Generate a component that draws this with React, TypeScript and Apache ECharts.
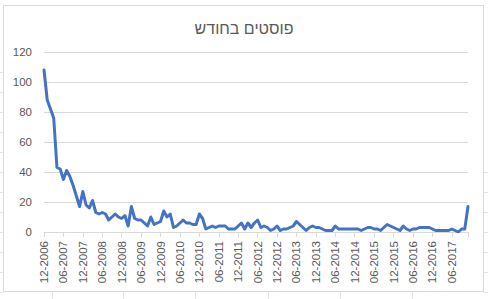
import React, { useEffect, useRef } from "react";
import * as echarts from "echarts";

const titleText = "פוסטים בחודש";

const startYear = 2006;
const startMonth = 12;

const postsPerMonth: number[] = [
  108, 88, 82, 76, 43, 42, 35, 41, 37, 31, 24, 17,
  27, 18, 16, 21, 13, 12, 13, 12, 8, 10, 12, 10,
  9, 11, 4, 17, 9, 8, 8, 6, 4, 10, 5, 6,
  7, 14, 10, 12, 3, 4, 6, 8, 6, 6, 5, 5,
  12, 9, 2, 3, 4, 3, 4, 4, 4, 2, 2, 2,
  4, 6, 2, 6, 3, 6, 8, 3, 4, 3, 1, 2,
  4, 1, 2, 2, 3, 4, 7, 5, 3, 1, 3, 4,
  3, 3, 2, 1, 1, 1, 4, 2, 2, 2, 2, 2,
  2, 2, 1, 2, 3, 3, 2, 2, 1, 3, 5, 4,
  3, 2, 1, 4, 2, 1, 2, 2, 3, 3, 3, 3,
  2, 1, 1, 1, 1, 1, 2, 1, 0, 2, 2, 17,
];

const yTicks = { min: 0, max: 120, interval: 20 };

function monthLabels(n: number): string[] {
  const out: string[] = [];
  let y = startYear;
  let m = startMonth;
  for (let i = 0; i < n; i++) {
    out.push(`${String(m).padStart(2, "0")}-${y}`);
    m++;
    if (m > 12) {
      m = 1;
      y++;
    }
  }
  return out;
}

const categories = monthLabels(postsPerMonth.length);

export default function App() {
  const ref = useRef<HTMLDivElement>(null);
  useEffect(() => {
    if (!ref.current) return;
    const chart = echarts.init(ref.current, undefined, { renderer: "svg" });
    const grey = "#d9d9d9";
    const text = "#595959";
    const font = "'Liberation Sans', Arial, sans-serif";
    const last = categories.length - 1;

    const stubs: any[] = [];
    for (let y = 72; y <= 292; y += 20) {
      stubs.push({ type: "line", shape: { x1: 0, y1: y + 0.5, x2: 3, y2: y + 0.5 }, style: { stroke: "#e3e3e3", lineWidth: 1 } });
    }
    for (let y = 172; y <= 292; y += 20) {
      stubs.push({ type: "line", shape: { x1: 484, y1: y + 0.5, x2: 488, y2: y + 0.5 }, style: { stroke: "#e3e3e3", lineWidth: 1 } });
    }
    for (const x of [52, 123, 195, 268, 340, 412]) {
      stubs.push({ type: "line", shape: { x1: x + 0.5, y1: 292, x2: x + 0.5, y2: 299 }, style: { stroke: "#e3e3e3", lineWidth: 1 } });
    }

    chart.setOption({
      animation: false,
      backgroundColor: "#ffffff",
      title: {
        text: titleText,
        left: "center",
        top: 15,
        textStyle: { color: text, fontSize: 16, fontWeight: "normal", fontFamily: font },
      },
      graphic: [
        {
          type: "rect",
          shape: { x: 3.5, y: 5.5, width: 480, height: 286 },
          style: { fill: "none", stroke: grey, lineWidth: 1 },
          silent: true,
        },
        ...stubs,
      ],
      grid: { left: 44, right: 20, top: 52, bottom: 67, containLabel: false },
      xAxis: {
        type: "category",
        data: categories,
        boundaryGap: false,
        axisLine: { show: true, lineStyle: { color: grey, width: 1 } },
        axisTick: {
          show: true,
          length: 5,
          lineStyle: { color: grey },
          interval: (i: number) => i % 6 === 0 || i === last,
        },
        axisLabel: {
          rotate: 90,
          margin: 9,
          color: text,
          fontSize: 11.5,
          fontFamily: font,
          interval: (i: number) => i % 6 === 0,
        },
        splitLine: { show: false },
      },
      yAxis: {
        type: "value",
        min: yTicks.min,
        max: yTicks.max,
        interval: yTicks.interval,
        axisLine: { show: false },
        axisTick: { show: false },
        axisLabel: { color: text, fontSize: 11.5, fontFamily: font, margin: 12 },
        splitLine: { lineStyle: { color: grey, width: 1 } },
      },
      series: [
        {
          type: "line",
          data: postsPerMonth,
          showSymbol: false,
          symbol: "none",
          lineStyle: { color: "#4472C4", width: 3, join: "round", cap: "round" },
          itemStyle: { color: "#4472C4" },
        },
      ],
    });
    return () => chart.dispose();
  }, []);
  return (
    <div
      ref={ref}
      style={{ position: "absolute", left: 0, top: 0, width: 488, height: 299, background: "#fff" }}
    />
  );
}
